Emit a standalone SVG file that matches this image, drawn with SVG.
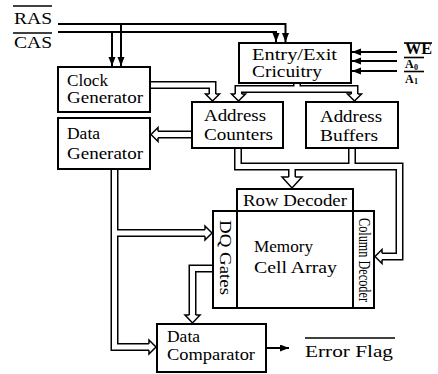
<svg xmlns="http://www.w3.org/2000/svg" width="438" height="374" viewBox="0 0 438 374">
<defs>
<style>
text{font-family:"Liberation Serif","Times New Roman",serif;font-size:16px;fill:#000}
.sm{font-size:12px;font-weight:bold}
.sub{font-size:8px;font-weight:bold}
.box{fill:#fff;stroke:#000;stroke-width:2}
.sig{fill:none;stroke:#000;stroke-width:2}
.ov{stroke:#000;stroke-width:1.6}
.bo{fill:none;stroke:#000;stroke-width:8;stroke-linejoin:miter}
.bi{fill:none;stroke:#fff;stroke-width:5;stroke-linejoin:miter}
.bh{fill:#fff;stroke:#000;stroke-width:1.5;stroke-linejoin:miter}
</style>
<marker id="ah" markerWidth="10" markerHeight="8" refX="9" refY="3.5" orient="auto" markerUnits="userSpaceOnUse"><path d="M0,0 L9,3.5 L0,7 z" fill="#000"/></marker>
</defs>
<rect width="438" height="374" fill="#fff"/>

<g id="labels">
<line class="ov" x1="13" y1="6" x2="52" y2="6"/>
<text x="14" y="24" font-size="15" textLength="38" lengthAdjust="spacingAndGlyphs">RAS</text>
<line class="ov" x1="13" y1="33" x2="52" y2="33"/>
<text x="14" y="48" font-size="15" textLength="38" lengthAdjust="spacingAndGlyphs">CAS</text>
<line class="ov" x1="404" y1="43" x2="432" y2="43"/>
<text x="405" y="53.5" font-size="11" font-weight="bold" textLength="27" lengthAdjust="spacingAndGlyphs">WE</text>
<line class="ov" x1="404" y1="57.5" x2="424" y2="57.5"/>
<text class="sm" x="405" y="68">A</text>
<text class="sub" x="414" y="69.5">0</text>
<line class="ov" x1="404" y1="71.5" x2="424" y2="71.5"/>
<text class="sm" x="405" y="82.5">A</text>
<text class="sub" x="414" y="84">1</text>
<line class="ov" x1="305" y1="338" x2="395" y2="338"/>
<text x="305" y="357" textLength="88" lengthAdjust="spacingAndGlyphs">Error Flag</text>
</g>

<g id="connectors">
<path class="sig" d="M58,24 H285.5 V42" marker-end="url(#ah)"/>
<path class="sig" d="M58,32 H276 V42" marker-end="url(#ah)"/>
<path class="sig" d="M121,24 V66" marker-end="url(#ah)"/>
<path class="sig" d="M112,32 V66" marker-end="url(#ah)"/>
<path class="sig" d="M397,52 H352" marker-end="url(#ah)"/>
<path class="sig" d="M397,61 H352" marker-end="url(#ah)"/>
<path class="sig" d="M397,71 H352" marker-end="url(#ah)"/>
<path class="sig" d="M267,348 H289" marker-end="url(#ah)"/>

<g id="buses">
<path class="bo" d="M151,85 H212.5 V94"/>
<path class="bo" d="M297,84 V89"/>
<path class="bo" d="M238.5,94 V89 H354.5 V94"/>
<path class="bo" d="M191,134.5 H158"/>
<path class="bo" d="M238,149 V166.5 H399.5 V256.5 H382"/>
<path class="bo" d="M352,149 V166.5"/>
<path class="bo" d="M292,166.5 V177"/>
<path class="bo" d="M114.5,170 V347 H149"/>
<path class="bo" d="M114.5,233 H205"/>
<path class="bo" d="M212,268.5 H192.5 V315"/>

<path class="bi" d="M151,85 H212.5 V94"/>
<path class="bi" d="M297,84 V89"/>
<path class="bi" d="M238.5,94 V89 H354.5 V94"/>
<path class="bi" d="M191,134.5 H158"/>
<path class="bi" d="M238,149 V166.5 H399.5 V256.5 H382"/>
<path class="bi" d="M352,149 V166.5"/>
<path class="bi" d="M292,166.5 V177"/>
<path class="bi" d="M114.5,170 V347 H149"/>
<path class="bi" d="M114.5,233 H205"/>
<path class="bi" d="M212,268.5 H192.5 V315"/>

<path class="bh" d="M209.25,94 L205.5,94 L212.5,101 L219.5,94 L215.75,94"/>
<path class="bh" d="M235.25,94 L231.5,94 L238.5,101 L245.5,94 L241.75,94"/>
<path class="bh" d="M351.25,94 L347.5,94 L354.5,101 L361.5,94 L357.75,94"/>
<path class="bh" d="M158,131.25 L158,127.5 L151,134.5 L158,141.5 L158,137.75"/>
<path class="bh" d="M288.75,177 L282,177 L292,188 L302,177 L295.25,177"/>
<path class="bh" d="M382,253.25 L382,249.5 L375,256.5 L382,263.5 L382,259.75"/>
<path class="bh" d="M205,229.75 L205,226 L212,233 L205,240 L205,236.25"/>
<path class="bh" d="M149,343.75 L149,340 L156,347 L149,354 L149,350.25"/>
<path class="bh" d="M189.25,315 L185,315 L192.5,323 L200,315 L195.75,315"/>
</g>
</g>

<g id="clock-generator">
<rect class="box" x="58" y="67" width="92" height="45"/>
<text x="67" y="86" textLength="41" lengthAdjust="spacingAndGlyphs">Clock</text>
<text x="67" y="103" textLength="76" lengthAdjust="spacingAndGlyphs">Generator</text>
</g>

<g id="data-generator">
<rect class="box" x="58" y="118" width="92" height="51"/>
<text x="67" y="139" textLength="33" lengthAdjust="spacingAndGlyphs">Data</text>
<text x="67" y="158.5" textLength="76" lengthAdjust="spacingAndGlyphs">Generator</text>
</g>

<g id="entry-exit">
<rect class="box" x="239" y="43" width="112" height="40"/>
<text x="252" y="60" textLength="85" lengthAdjust="spacingAndGlyphs">Entry/Exit</text>
<text x="252" y="77" textLength="70" lengthAdjust="spacingAndGlyphs">Cricuitry</text>
</g>

<g id="address-counters">
<rect class="box" x="192" y="102" width="91" height="46"/>
<text x="204" y="121" textLength="62" lengthAdjust="spacingAndGlyphs">Address</text>
<text x="204" y="140" textLength="69" lengthAdjust="spacingAndGlyphs">Counters</text>
</g>

<g id="address-buffers">
<rect class="box" x="306" y="102" width="92" height="46"/>
<text x="320" y="121.5" textLength="62" lengthAdjust="spacingAndGlyphs">Address</text>
<text x="320" y="141" textLength="58" lengthAdjust="spacingAndGlyphs">Buffers</text>
</g>

<g id="row-decoder">
<rect class="box" x="237" y="189" width="116" height="22"/>
<text x="243" y="206" textLength="104" lengthAdjust="spacingAndGlyphs">Row Decoder</text>
</g>

<g id="memory-cell-array">
<rect class="box" x="237" y="211" width="116" height="97"/>
<text x="254" y="252" textLength="59" lengthAdjust="spacingAndGlyphs">Memory</text>
<text x="254" y="273" textLength="83" lengthAdjust="spacingAndGlyphs">Cell Array</text>
</g>

<g id="dq-gates">
<rect class="box" x="213" y="211" width="24" height="97"/>
<text transform="translate(219.5,220) rotate(90)" textLength="75" lengthAdjust="spacingAndGlyphs">DQ Gates</text>
</g>

<g id="column-decoder">
<rect class="box" x="353" y="211" width="21" height="97"/>
<text transform="translate(359,218) rotate(90)" font-size="13" textLength="84" lengthAdjust="spacingAndGlyphs">Column Decoder</text>
</g>

<g id="data-comparator">
<rect class="box" x="157" y="324" width="109" height="48"/>
<text x="167" y="342" textLength="33" lengthAdjust="spacingAndGlyphs">Data</text>
<text x="167" y="359.5" textLength="88" lengthAdjust="spacingAndGlyphs">Comparator</text>
</g>
</svg>
